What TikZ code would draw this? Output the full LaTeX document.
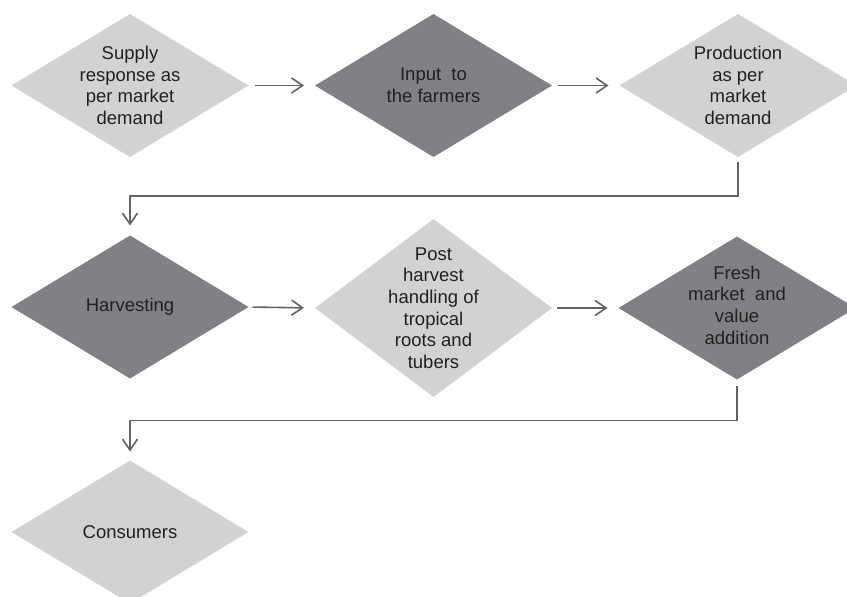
\documentclass[tikz,border=0pt]{standalone}
\usepackage{fontspec}
\setmainfont{Liberation Sans}
\usepackage{tikz}
\usetikzlibrary{shapes.geometric, arrows.meta}

\definecolor{stagelight}{RGB}{209,210,212}
\definecolor{stagedark}{RGB}{128,129,132}
\definecolor{stageink}{RGB}{35,31,32}
\definecolor{flowgray}{RGB}{98,99,102}

\tikzset{
	stage/.style={diamond, draw=none, inner sep=0pt, outer sep=0pt, minimum width=237pt, minimum height=143pt},
	lightstage/.style={stage, fill=stagelight},
	darkstage/.style={stage, fill=stagedark},
	stagetext/.style={align=center, inner sep=0pt, text=stageink, font=\fontsize{18.5}{21.7}\selectfont},
	flow/.style={draw=flowgray, line width=1.6pt, -{Straight Barb[length=11pt, width=15pt, line width=1.6pt]}},
}

\begin{document}
\begin{tikzpicture}[x=1pt, y=-1pt]
	\useasboundingbox (0,0) rectangle (847,597);

	% First row
	\node (supply) [lightstage, label={[stagetext]center:Supply\\response as\\per market\\demand}] at (130, 85.5) {};
	\node (input) [darkstage, label={[stagetext]center:Input\ \ to\\the farmers}] at (433.5, 85.5) {};
	\node (production) [lightstage, label={[stagetext]center:Production\\as per\\market\\demand}] at (738, 85.5) {};

	% Second row
	\node (harvest) [darkstage, label={[stagetext]center:Harvesting}] at (130, 307) {};
	\node (posthandling) [lightstage, minimum height=178pt, label={[stagetext]center:Post\\harvest\\handling of\\tropical\\roots and\\tubers}] at (433.5, 308) {};
	\node (fresh) [darkstage, label={[stagetext, yshift=3pt]center:Fresh\\market\ \ and\\value\\addition}] at (737, 308) {};

	% Last row
	\node (consumers) [lightstage, label={[stagetext]center:Consumers}] at (130, 532) {};

	% Flow between the stages
	\draw [flow, shorten <=6pt, shorten >=11pt] (supply.east) -- (input.west);
	\draw [flow, shorten <=6pt, shorten >=11pt] (input.east) -- (production.west);
	\draw [flow, shorten <=5pt, shorten >=10pt] (production.south) -- ++(0,39) -| (harvest.north);
	\draw [flow, shorten <=4pt, shorten >=11pt] (harvest.east) -- (posthandling.west);
	\draw [flow, shorten <=5pt, shorten >=11pt] (posthandling.east) -- (fresh.west);
	\draw [flow, shorten <=6pt, shorten >=9pt] (fresh.south) -- ++(0,41) -| (consumers.north);
\end{tikzpicture}
\end{document}
